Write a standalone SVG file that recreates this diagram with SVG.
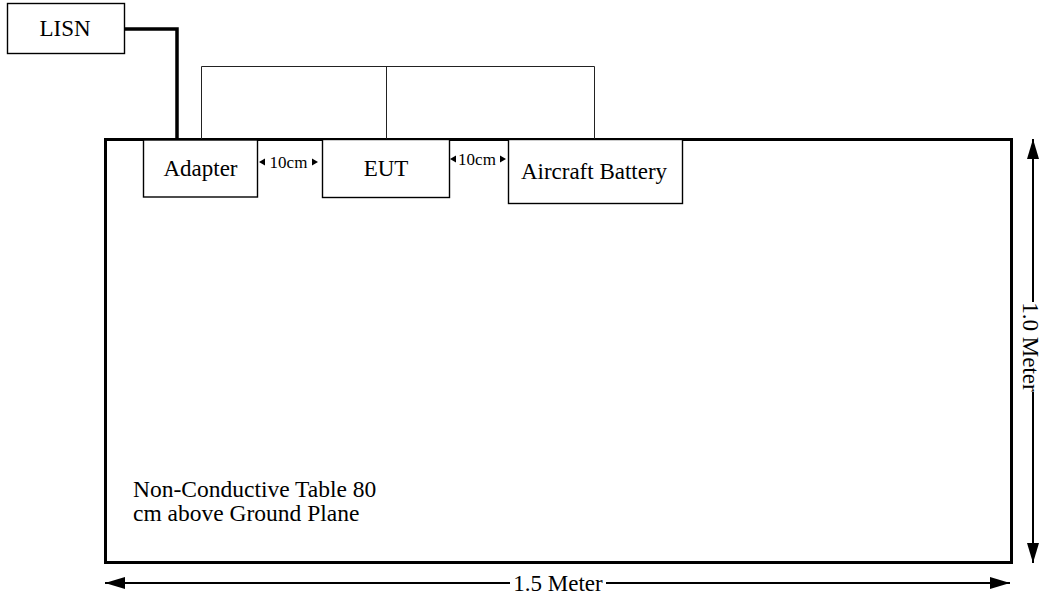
<svg xmlns="http://www.w3.org/2000/svg" width="1041" height="598" viewBox="0 0 1041 598" font-family="'Liberation Serif', 'Times New Roman', 'DejaVu Serif', serif">
<defs>
<style>
text{font-family:'Liberation Serif','Times New Roman','DejaVu Serif',serif;fill:#000}
.lbl{font-size:23px;text-anchor:middle}
.box{fill:#fff;stroke:#000;stroke-width:1.4}
.thin{fill:none;stroke:#222;stroke-width:1}
.thick{fill:none;stroke:#000;stroke-width:3.5}
.dim{fill:none;stroke:#000;stroke-width:2}
.cm{font-size:17px;text-anchor:middle}
</style>
<marker id="ah" viewBox="0 0 20 12" refX="20" refY="6" markerWidth="20" markerHeight="12" markerUnits="userSpaceOnUse" orient="auto-start-reverse">
<path d="M0,0 L20,6 L0,12 Z" fill="#000"/>
</marker>
</defs>
<rect width="1041" height="598" fill="#fff"/>
<g id="table">
<rect x="105.5" y="139.5" width="906" height="423" fill="#fff" stroke="#000" stroke-width="3"/>
<text x="133" y="497" font-size="23.5">Non-Conductive Table 80</text>
<text x="133" y="521" font-size="23.5">cm above Ground Plane</text>
</g>
<g id="connectors">
<polyline class="thick" points="124,29 177,29 177,139"/>
<polyline class="thin" points="201.5,139 201.5,66.5 594.5,66.5 594.5,139"/>
<line class="thin" x1="386.5" y1="66.5" x2="386.5" y2="139"/>
</g>
<g id="lisn">
<rect class="box" x="7.5" y="3.5" width="117" height="50"/>
<text class="lbl" x="65" y="36">LISN</text>
</g>
<g id="adapter">
<rect class="box" x="143.5" y="140" width="114" height="57"/>
<text class="lbl" x="200.5" y="176">Adapter</text>
</g>
<g id="eut">
<rect class="box" x="322.5" y="139.5" width="127" height="58"/>
<text class="lbl" x="386" y="176">EUT</text>
</g>
<g id="battery">
<rect class="box" x="508.5" y="139.5" width="174" height="64"/>
<text class="lbl" x="594" y="179">Aircraft Battery</text>
</g>
<g id="gap1">
<polygon points="259,162 265,158.5 265,165.5" fill="#000"/>
<text class="cm" x="288.5" y="168">10cm</text>
<polygon points="318,162 312,158.5 312,165.5" fill="#000"/>
</g>
<g id="gap2">
<polygon points="450,159 456,155.5 456,162.5" fill="#000"/>
<text class="cm" x="477" y="165">10cm</text>
<polygon points="506,159 500,155.5 500,162.5" fill="#000"/>
</g>
<g id="dim-width">
<line class="dim" x1="510" y1="583" x2="105" y2="583" marker-end="url(#ah)"/>
<line class="dim" x1="606" y1="583" x2="1010" y2="583" marker-end="url(#ah)"/>
<text class="lbl" x="558" y="591">1.5 Meter</text>
</g>
<g id="dim-height">
<line class="dim" x1="1033" y1="302" x2="1033" y2="139" marker-end="url(#ah)"/>
<line class="dim" x1="1033" y1="392" x2="1033" y2="563" marker-end="url(#ah)"/>
<text class="lbl" transform="translate(1031,347) rotate(90)" x="0" y="8" font-size="21">1.0 Meter</text>
</g>
</svg>
